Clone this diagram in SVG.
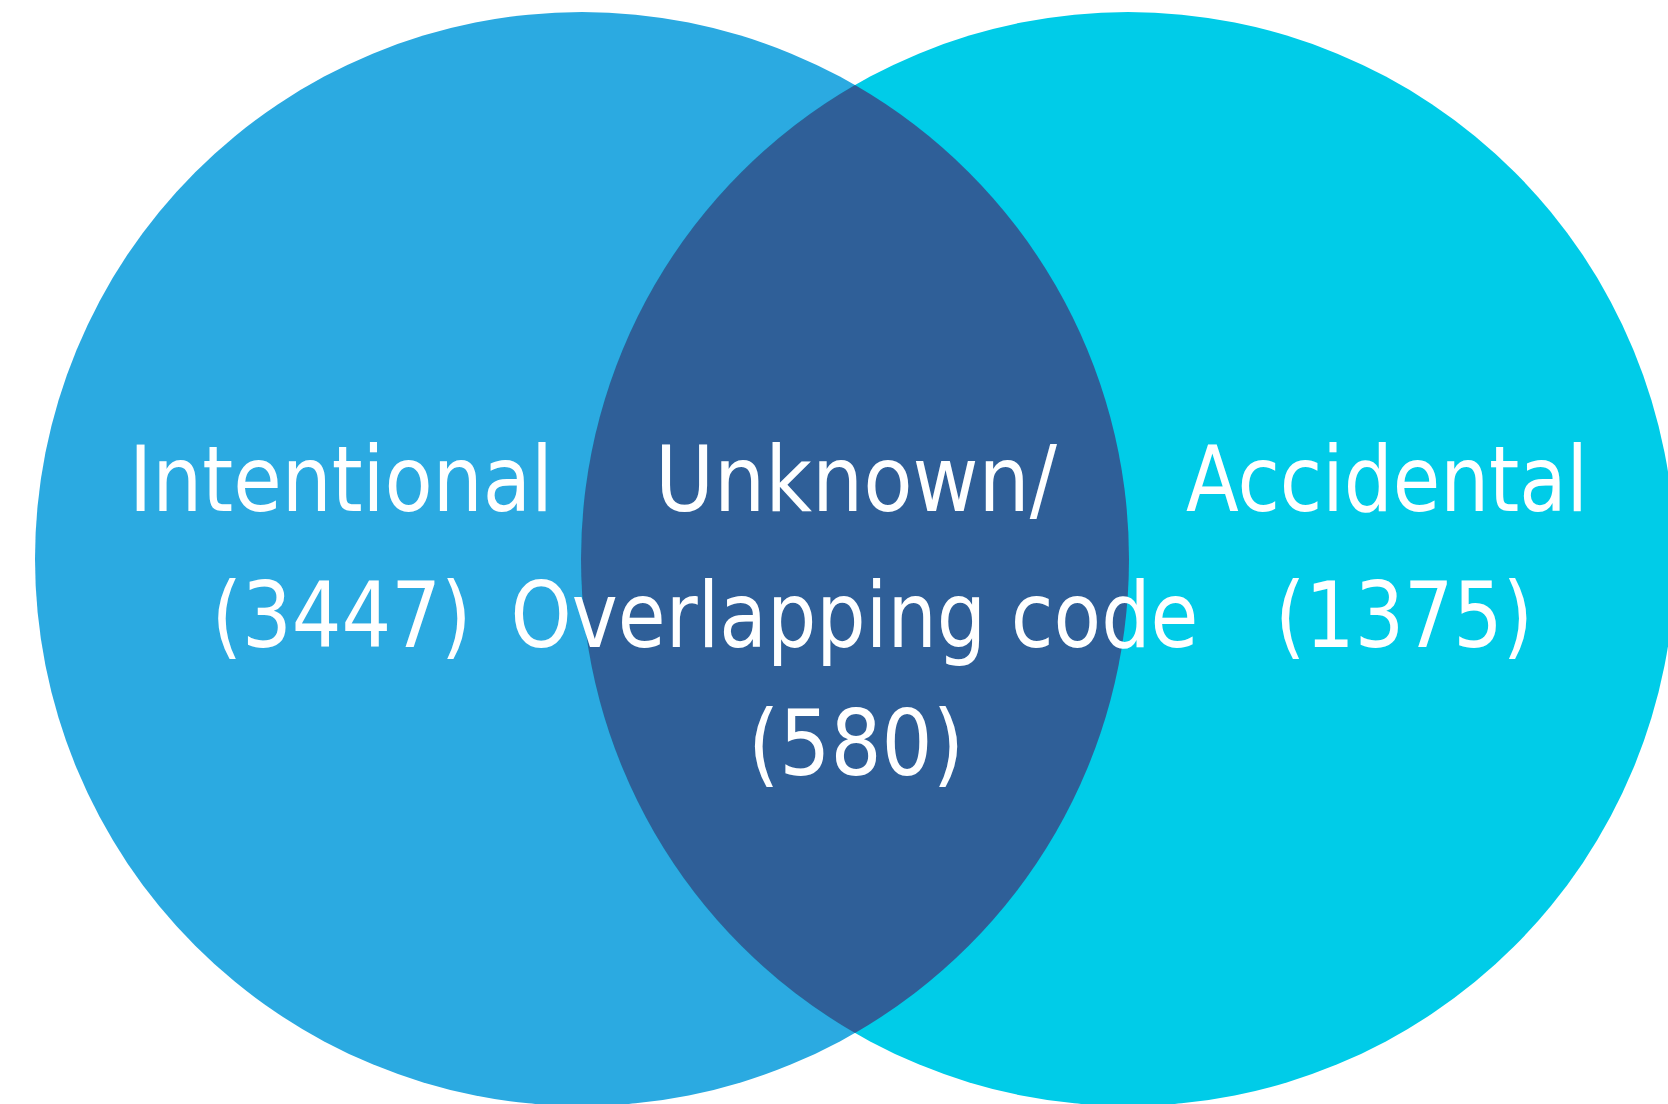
<svg xmlns="http://www.w3.org/2000/svg" width="1668" height="1104" viewBox="0 0 1668 1104">
  <style>
    .lbl { font-family: "DejaVu Sans", Verdana, sans-serif; font-size: 90px; fill: #FFFFFF; text-anchor: middle; }
  </style>
  <rect x="0" y="0" width="1668" height="1104" fill="#FFFFFF"/>

  <!-- Intentional set -->
  <g id="intentional">
    <circle cx="582" cy="559" r="547" fill="#2BAAE1"/>
  </g>

  <!-- Accidental set -->
  <g id="accidental">
    <circle cx="1128" cy="559" r="547" fill="#00CCE8"/>
  </g>

  <!-- Overlap of the two sets -->
  <g id="overlap">
    <path d="M 855 85 A 547 547 0 0 1 855 1033 A 547 547 0 0 1 855 85 Z" fill="#2F5F98"/>
  </g>

  <!-- Labels -->
  <g id="labels">
    <text class="lbl" x="341" y="511" textLength="424" lengthAdjust="spacingAndGlyphs">Intentional</text>
    <text class="lbl" x="856" y="511" textLength="402" lengthAdjust="spacingAndGlyphs">Unknown/</text>
    <text class="lbl" x="1387" y="511" textLength="402" lengthAdjust="spacingAndGlyphs">Accidental</text>
    <text class="lbl" x="341.5" y="647" textLength="260" lengthAdjust="spacingAndGlyphs">(3447)</text>
    <text class="lbl" x="854.5" y="647" textLength="688" lengthAdjust="spacingAndGlyphs">Overlapping code</text>
    <text class="lbl" x="1404" y="647" textLength="258" lengthAdjust="spacingAndGlyphs">(1375)</text>
    <text class="lbl" x="856" y="775" textLength="216" lengthAdjust="spacingAndGlyphs">(580)</text>
  </g>
</svg>
